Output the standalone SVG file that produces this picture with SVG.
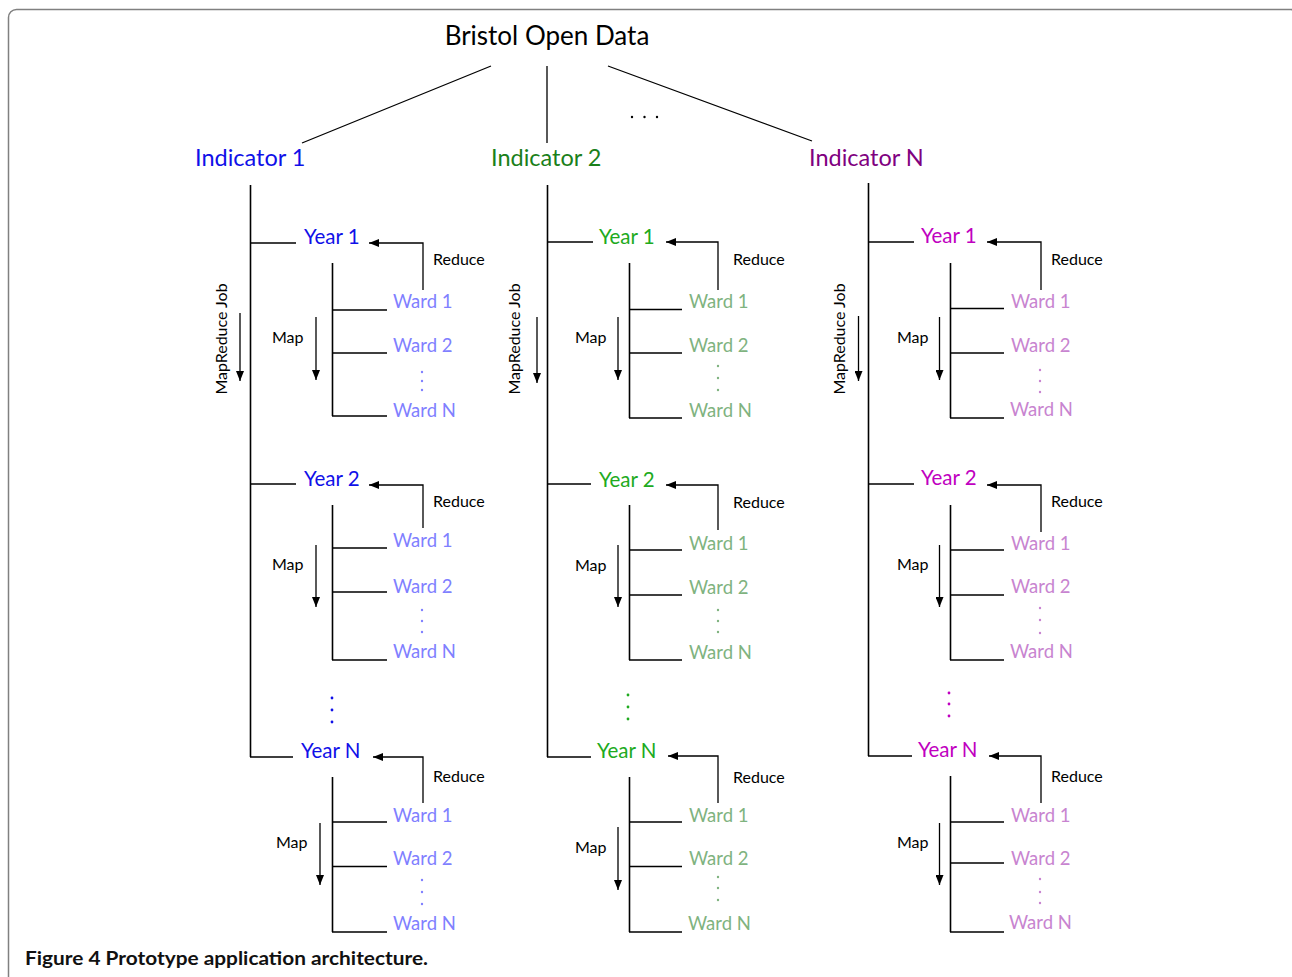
<svg xmlns="http://www.w3.org/2000/svg" width="1292" height="977" viewBox="0 0 1292 977">
<defs>
<marker id="ah" markerUnits="userSpaceOnUse" markerWidth="10" markerHeight="8" refX="10" refY="4" orient="auto">
<path d="M0,0 L10,4 L0,8 z" fill="#000"/>
</marker>
<style>
text{font-family:Lato,"Open Sans","DejaVu Sans",sans-serif}
.ln{stroke:#000;stroke-width:1.3;fill:none}
.mn{stroke:#000;stroke-width:1.6;fill:none}
.ar{stroke:#000;stroke-width:1.3;fill:none;marker-end:url(#ah)}
.title{font-size:26px;fill:#000}
.ind{font-size:23.5px}
.yr{font-size:20.5px}
.wd{font-size:18.5px}
.lb{font-size:16px;fill:#000}
.b1{fill:#1010e8}.w1{fill:#8080ff}
.i2{fill:#1a801a}.b2{fill:#20aa20}.w2{fill:#7fb37f}
.i3{fill:#800080}.b3{fill:#c000c0}.w3{fill:#c884d0}
.cap{font-size:19px;font-weight:bold;fill:#111}
</style>
</defs>
<rect x="8.5" y="9.5" width="1290" height="1000" rx="8" fill="none" stroke="#808080" stroke-width="1.5"/>

<g id="connectors">
<path class="ln" d="M491,66 L302,143 M547,66 V143 M608,66 L812,141"/>
<!-- column 1 -->
<path class="mn" d="M250.5,185 V757"/>
<path class="ln" d="M250,243 H296 M250,484 H296 M250,757 H293"/>
<path class="ar" d="M423,290 V243 H369"/>
<path class="ar" d="M423,528 V485 H369"/>
<path class="ar" d="M423,803 V757 H373"/>
<path class="mn" d="M332.5,263 V416 M332.5,505 V660 M332.5,777 V932"/>
<path class="ln" d="M332,310 H387 M332,353 H387 M332,416 H387 M332,548 H387 M332,592 H387 M332,660 H387 M332,822 H387 M332,866.5 H387 M332,932 H387"/>
<path class="ar" d="M316,317 V380"/>
<path class="ar" d="M316,545 V607"/>
<path class="ar" d="M320,823 V885"/>
<path class="ar" d="M240,313 V381"/>
<!-- column 2 -->
<path class="mn" d="M547.5,185 V757"/>
<path class="ln" d="M547,242 H593 M547,484 H591 M547,757 H591"/>
<path class="ar" d="M718,290 V242 H666"/>
<path class="ar" d="M718,530 V485 H666"/>
<path class="ar" d="M718,803 V756 H668"/>
<path class="mn" d="M629.5,263 V418 M629.5,505 V660 M629.5,777 V932"/>
<path class="ln" d="M629,309.5 H682 M629,353 H682 M629,418 H682 M629,550 H682 M629,595 H682 M629,660 H682 M629,822 H682 M629,866.5 H682 M629,932 H682"/>
<path class="ar" d="M618,317 V380"/>
<path class="ar" d="M618,545 V607"/>
<path class="ar" d="M618,827 V890"/>
<path class="ar" d="M537,317 V383"/>
<!-- column 3 -->
<path class="mn" d="M868.5,183 V756"/>
<path class="ln" d="M868,242 H914 M868,484 H914 M868,756 H912"/>
<path class="ar" d="M1041,290 V242 H987"/>
<path class="ar" d="M1041,532 V485 H987"/>
<path class="ar" d="M1041,803 V756 H989"/>
<path class="mn" d="M950.5,263 V418 M950.5,505 V660 M950.5,776 V932"/>
<path class="ln" d="M950,308.5 H1004 M950,353 H1004 M950,418 H1004 M950,550 H1004 M950,595 H1004 M950,660 H1004 M950,822 H1004 M950,863 H1004 M950,932 H1004"/>
<path class="ar" d="M939.5,317 V380"/>
<path class="ar" d="M939.5,545 V607"/>
<path class="ar" d="M939.5,823 V885"/>
<path class="ar" d="M858.5,316 V381"/>
</g>

<g id="root">
<text class="title" x="547" y="45" text-anchor="middle">Bristol Open Data</text>
<g fill="#000"><circle cx="632" cy="117" r="1.2"/><circle cx="644.5" cy="117" r="1.2"/><circle cx="657" cy="117" r="1.2"/></g>
</g>

<!-- Column 1 -->
<g id="indicator1"><text class="ind b1" x="195" y="166">Indicator 1</text></g>
<g id="c1-job">
<text class="lb" transform="translate(227,339) rotate(-90)" text-anchor="middle">MapReduce Job</text>
</g>
<g id="c1-year1">
<text class="yr b1" x="304" y="244">Year 1</text>
<text class="lb" x="433" y="265">Reduce</text>
<text class="lb" x="272" y="343">Map</text>
<text class="wd w1" x="393" y="308">Ward 1</text>
<text class="wd w1" x="393" y="352">Ward 2</text>
<g class="w1"><circle cx="422" cy="372" r="1.2"/><circle cx="422" cy="381" r="1.2"/><circle cx="422" cy="390" r="1.2"/></g>
<text class="wd w1" x="393" y="417">Ward N</text>
</g>
<g id="c1-year2">
<text class="yr b1" x="304" y="486">Year 2</text>
<text class="lb" x="433" y="507">Reduce</text>
<text class="lb" x="272" y="570">Map</text>
<text class="wd w1" x="393" y="547">Ward 1</text>
<text class="wd w1" x="393" y="593">Ward 2</text>
<g class="w1"><circle cx="422" cy="610" r="1.2"/><circle cx="422" cy="621" r="1.2"/><circle cx="422" cy="632" r="1.2"/></g>
<text class="wd w1" x="393" y="658">Ward N</text>
</g>
<g id="c1-yeardots" class="b1"><circle cx="332" cy="698" r="1.4"/><circle cx="332" cy="710" r="1.4"/><circle cx="332" cy="722" r="1.4"/></g>
<g id="c1-yearN">
<text class="yr b1" x="301" y="758">Year N</text>
<text class="lb" x="433" y="782">Reduce</text>
<text class="lb" x="276" y="848">Map</text>
<text class="wd w1" x="393" y="822">Ward 1</text>
<text class="wd w1" x="393" y="865">Ward 2</text>
<g class="w1"><circle cx="422" cy="880" r="1.2"/><circle cx="422" cy="892" r="1.2"/><circle cx="422" cy="904" r="1.2"/></g>
<text class="wd w1" x="393" y="930">Ward N</text>
</g>

<!-- Column 2 -->
<g id="indicator2"><text class="ind i2" x="491" y="166">Indicator 2</text></g>
<g id="c2-job">
<text class="lb" transform="translate(520,339) rotate(-90)" text-anchor="middle">MapReduce Job</text>
</g>
<g id="c2-year1">
<text class="yr b2" x="599" y="244">Year 1</text>
<text class="lb" x="733" y="265">Reduce</text>
<text class="lb" x="575" y="343">Map</text>
<text class="wd w2" x="689" y="308">Ward 1</text>
<text class="wd w2" x="689" y="352">Ward 2</text>
<g class="w2"><circle cx="718" cy="366" r="1.2"/><circle cx="718" cy="378" r="1.2"/><circle cx="718" cy="390" r="1.2"/></g>
<text class="wd w2" x="689" y="417">Ward N</text>
</g>
<g id="c2-year2">
<text class="yr b2" x="599" y="487">Year 2</text>
<text class="lb" x="733" y="508">Reduce</text>
<text class="lb" x="575" y="571">Map</text>
<text class="wd w2" x="689" y="550">Ward 1</text>
<text class="wd w2" x="689" y="594">Ward 2</text>
<g class="w2"><circle cx="718" cy="610" r="1.2"/><circle cx="718" cy="621" r="1.2"/><circle cx="718" cy="632" r="1.2"/></g>
<text class="wd w2" x="689" y="659">Ward N</text>
</g>
<g id="c2-yeardots" class="b2"><circle cx="628" cy="695" r="1.4"/><circle cx="628" cy="707" r="1.4"/><circle cx="628" cy="719" r="1.4"/></g>
<g id="c2-yearN">
<text class="yr b2" x="597" y="758">Year N</text>
<text class="lb" x="733" y="783">Reduce</text>
<text class="lb" x="575" y="853">Map</text>
<text class="wd w2" x="689" y="822">Ward 1</text>
<text class="wd w2" x="689" y="865">Ward 2</text>
<g class="w2"><circle cx="718" cy="877" r="1.2"/><circle cx="718" cy="888" r="1.2"/><circle cx="718" cy="900" r="1.2"/></g>
<text class="wd w2" x="688" y="930">Ward N</text>
</g>

<!-- Column 3 -->
<g id="indicatorN"><text class="ind i3" x="809" y="166">Indicator N</text></g>
<g id="c3-job">
<text class="lb" transform="translate(845,339) rotate(-90)" text-anchor="middle">MapReduce Job</text>
</g>
<g id="c3-year1">
<text class="yr b3" x="921" y="243">Year 1</text>
<text class="lb" x="1051" y="265">Reduce</text>
<text class="lb" x="897" y="343">Map</text>
<text class="wd w3" x="1011" y="308">Ward 1</text>
<text class="wd w3" x="1011" y="352">Ward 2</text>
<g class="w3"><circle cx="1040" cy="370" r="1.2"/><circle cx="1040" cy="381" r="1.2"/><circle cx="1040" cy="392" r="1.2"/></g>
<text class="wd w3" x="1010" y="416">Ward N</text>
</g>
<g id="c3-year2">
<text class="yr b3" x="921" y="485">Year 2</text>
<text class="lb" x="1051" y="507">Reduce</text>
<text class="lb" x="897" y="570">Map</text>
<text class="wd w3" x="1011" y="550">Ward 1</text>
<text class="wd w3" x="1011" y="593">Ward 2</text>
<g class="w3"><circle cx="1040" cy="608" r="1.2"/><circle cx="1040" cy="620" r="1.2"/><circle cx="1040" cy="633" r="1.2"/></g>
<text class="wd w3" x="1010" y="658">Ward N</text>
</g>
<g id="c3-yeardots" class="b3"><circle cx="949" cy="693" r="1.4"/><circle cx="949" cy="704" r="1.4"/><circle cx="949" cy="716" r="1.4"/></g>
<g id="c3-yearN">
<text class="yr b3" x="918" y="757">Year N</text>
<text class="lb" x="1051" y="782">Reduce</text>
<text class="lb" x="897" y="848">Map</text>
<text class="wd w3" x="1011" y="822">Ward 1</text>
<text class="wd w3" x="1011" y="865">Ward 2</text>
<g class="w3"><circle cx="1040" cy="879" r="1.2"/><circle cx="1040" cy="892" r="1.2"/><circle cx="1040" cy="903" r="1.2"/></g>
<text class="wd w3" x="1009" y="929">Ward N</text>
</g>

<g id="caption"><text class="cap" x="25" y="965" textLength="403" lengthAdjust="spacingAndGlyphs">Figure 4 Prototype application architecture.</text></g>
</svg>
